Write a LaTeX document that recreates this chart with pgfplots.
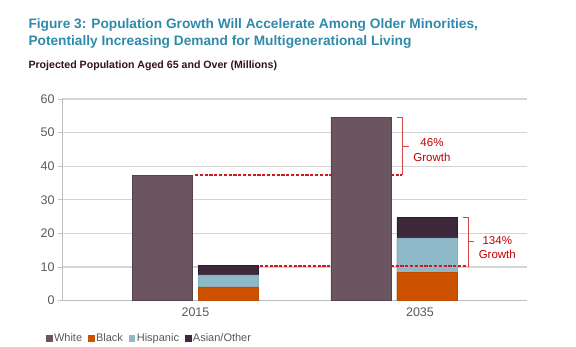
\documentclass[border=0pt]{standalone}
\usepackage{pgfplots}
\pgfplotsset{compat=1.18}
\usepackage{fontspec}
\setmainfont{Liberation Sans}
\definecolor{titleblue}{HTML}{2F8AAA}
\definecolor{subdark}{HTML}{35101E}
\definecolor{ticktext}{HTML}{595959}
\definecolor{axisgray}{HTML}{BFBFBF}
\definecolor{gridgray}{HTML}{D4D4D4}
\definecolor{cWhite}{HTML}{6A5560}
\definecolor{cWhiteD}{HTML}{54424C}
\definecolor{cBlack}{HTML}{CC5200}
\definecolor{cBlackD}{HTML}{C04A00}
\definecolor{cHisp}{HTML}{8EB9C9}
\definecolor{cHispD}{HTML}{7FAFC0}
\definecolor{cAsian}{HTML}{3D283B}
\definecolor{cAsianD}{HTML}{2E1D2C}
\definecolor{annred}{HTML}{C00000}
\definecolor{brred}{HTML}{D04848}
\definecolor{growthred}{HTML}{D01A20}
\begin{document}
\begin{tikzpicture}
\useasboundingbox (0pt,0pt) rectangle (576pt,347pt);
\node[anchor=base west, inner sep=0pt, text=titleblue, font=\fontsize{13.7}{16}\selectfont\bfseries] at (28.3pt,318.7pt) {Figure 3: Population Growth Will Accelerate Among Older Minorities,};
\node[anchor=base west, inner sep=0pt, text=titleblue, font=\fontsize{13.7}{16}\selectfont\bfseries] at (28.3pt,301.3pt) {Potentially Increasing Demand for Multigenerational Living};
\node[anchor=base west, inner sep=0pt, text=subdark, font=\fontsize{10.6}{13}\selectfont\bfseries] at (28.3pt,278pt) {Projected Population Aged 65 and Over (Millions)};
\begin{axis}[
  at={(62pt,46.3pt)}, anchor=south west,
  scale only axis, width=465pt, height=201.7pt,
  xmin=0, xmax=465, ymin=0, ymax=60,
  axis x line*=bottom, axis y line*=left,
  axis line style={draw=axisgray, line width=0.8pt, -},
  ytick={0,10,...,60},
  ymajorgrids, grid style={draw=gridgray, line width=1.3pt},
  xtick={133.5,358}, xticklabels={2015,2035},
  xtick style={draw=none},
  ytick style={draw=axisgray, line width=0.8pt},
  tick align=outside, major tick length=4pt,
  ticklabel style={font=\fontsize{12.5}{14}\selectfont, text=ticktext},
  /pgf/number format/assume math mode=true,
  clip=false,
  legend style={at={(-0.041,-0.185)}, anchor=west, draw=none, fill=none,
    legend columns=4, font=\fontsize{11}{13}\selectfont, text=ticktext,
    /tikz/every even column/.append style={column sep=4pt}},
  legend image code/.code={\draw[#1] (0pt,-3pt) rectangle (5.5pt,2.5pt);},
]
\addlegendimage{fill=cWhite, draw=cWhite}
\addlegendentry{White}
\addlegendimage{fill=cBlack, draw=cBlack}
\addlegendentry{Black}
\addlegendimage{fill=cHisp, draw=cHisp}
\addlegendentry{Hispanic}
\addlegendimage{fill=cAsian, draw=cAsian}
\addlegendentry{Asian/Other}
% White
\addplot[ybar, bar width=60, bar shift=0pt, fill=cWhite, draw=cWhiteD, line width=0.6pt, forget plot]
  coordinates {(100.7,37.3) (298.8,54.6)};
% Minorities (cumulative totals, drawn back to front)
\addplot[ybar, bar width=60, bar shift=0pt, fill=cAsian, draw=cAsianD, line width=0.6pt, forget plot]
  coordinates {(166.7,10.4) (364.8,24.7)};
\addplot[ybar, bar width=60, bar shift=0pt, fill=cHisp, draw=cHispD, line width=0.6pt, forget plot]
  coordinates {(166.7,7.7) (364.8,18.7)};
\addplot[ybar, bar width=60, bar shift=0pt, fill=cBlack, draw=cBlackD, line width=0.6pt, forget plot]
  coordinates {(166.7,4.1) (364.8,8.3)};
% annotations
\begin{scope}[color=growthred, line width=1.8pt, dash pattern=on 3.2pt off 1.6pt]
\draw (133,37.3) -- (268.8,37.3);
\draw (328.8,37.3) -- (340.3,37.3);
\draw (198,10.4) -- (268.8,10.4);
\draw (328.8,10.4) -- (406.3,10.4);
\end{scope}
\draw[color=brred, line width=1pt] (335,54.6) -- (340.3,54.6) -- (340.3,37.3);
\draw[color=brred, line width=1pt] (340.3,45.95) -- (347,45.95);
\draw[color=brred, line width=1pt] (401,24.7) -- (406.3,24.7) -- (406.3,10.4);
\draw[color=brred, line width=1pt] (406.3,17.55) -- (412,17.55);
\node[text=annred, align=center, font=\fontsize{11.5}{14.5}\selectfont] at (370,44.8) {46\%\\Growth};
\node[text=annred, align=center, font=\fontsize{11.5}{14.5}\selectfont] at (435.3,15.8) {134\%\\Growth};
\end{axis}
\end{tikzpicture}
\end{document}
